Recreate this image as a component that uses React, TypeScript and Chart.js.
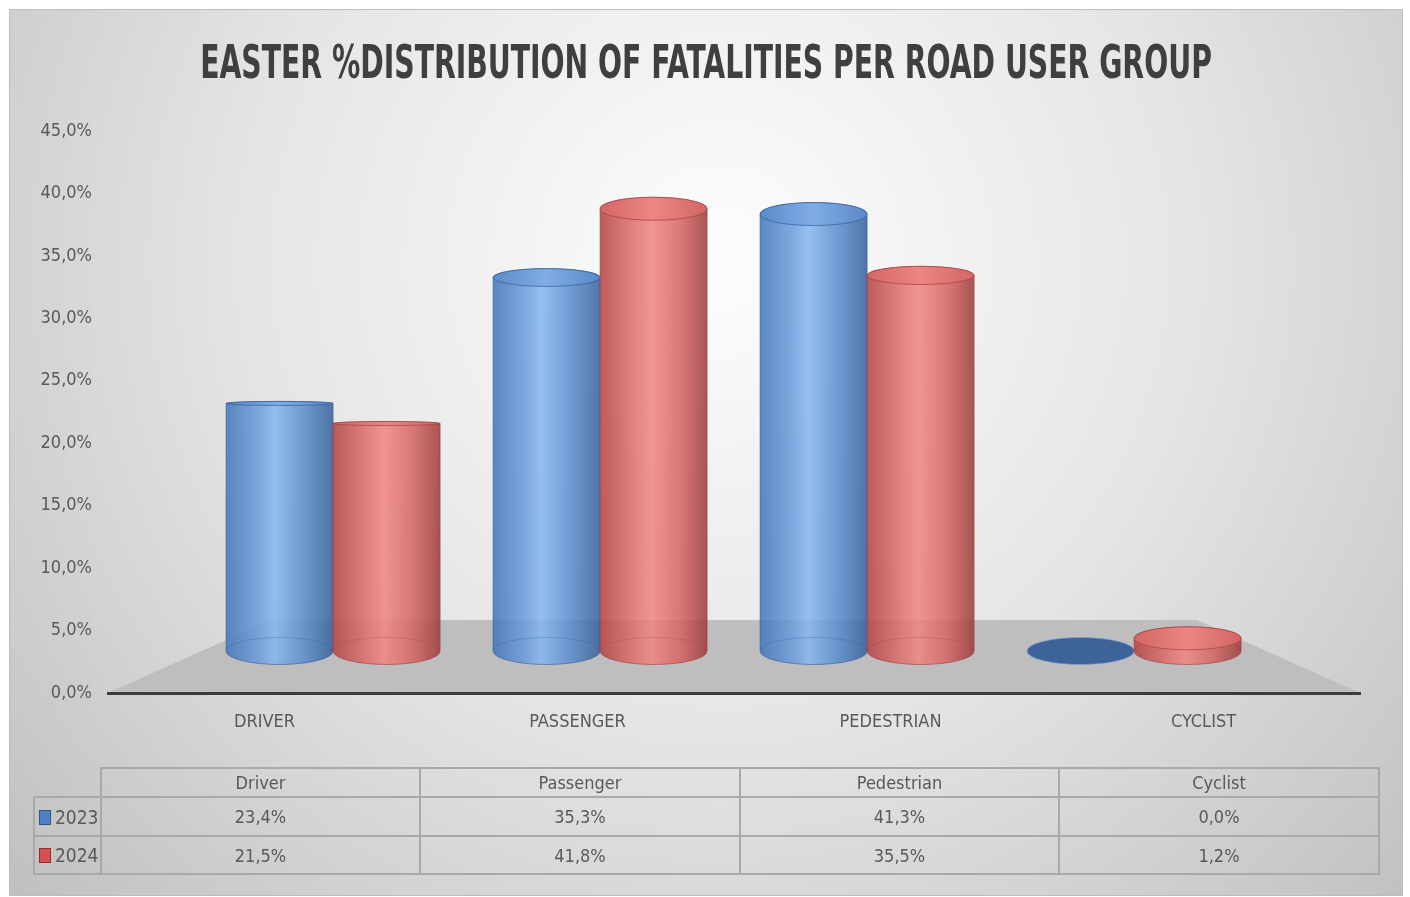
import React, { useEffect, useLayoutEffect, useRef } from 'react';
import { Chart, registerables } from 'chart.js';

Chart.register(...registerables);

// ---------- data ----------
const chartTitle = 'EASTER %DISTRIBUTION OF FATALITIES PER ROAD USER GROUP';
const axisCategories = ['DRIVER', 'PASSENGER', 'PEDESTRIAN', 'CYCLIST'];
const tableCategories = ['Driver', 'Passenger', 'Pedestrian', 'Cyclist'];
const seriesNames = ['2023', '2024'];
const values2023 = [23.4, 35.3, 41.3, 0.0];
const values2024 = [21.5, 41.8, 35.5, 1.2];
const yAxisMin = 0;
const yAxisMax = 45;
const yAxisStep = 5;

// ---------- styles ----------
const W = 1410;
const H = 897;
const FONT = "'DejaVu Sans Condensed', 'Liberation Sans Narrow', 'Lato', sans-serif";
const TEXT = '#595959';

const fmt = (v: number) => v.toFixed(1).replace('.', ',') + '%';

type Palette = { stops: [number, string][]; top: string; topHi: string; rim: string; flat: string; swatch: string; swatchBorder: string };
const palettes: Palette[] = [
  {
    stops: [[0, '#4475b8'], [0.28, '#6799da'], [0.45, '#87b7ee'], [0.72, '#5a8ecf'], [1, '#37609a']],
    top: '#5b8bca', topHi: '#7eabe4', rim: '#335d96', flat: '#3d6399',
    swatch: '#4f81c7', swatchBorder: '#2f5587',
  },
  {
    stops: [[0, '#b24242'], [0.3, '#dc6e6c'], [0.48, '#ef8684'], [0.75, '#d46462'], [1, '#9b3b3b']],
    top: '#d66866', topHi: '#ec8482', rim: '#a23e3e', flat: '#b84a4a',
    swatch: '#d65050', swatchBorder: '#8e2e2e',
  },
];

function drawCylinder(ctx: CanvasRenderingContext2D, x: number, top: number, base: number, w: number, p: Palette) {
  const rx = w / 2;
  const ryB = 13.5;
  const h = base - top;
  if (h < 0.5) {
    ctx.save();
    ctx.beginPath();
    ctx.ellipse(x, base, rx, ryB, 0, 0, Math.PI * 2);
    ctx.fillStyle = p.flat;
    ctx.fill();
    ctx.lineWidth = 1;
    ctx.strokeStyle = 'rgba(120,160,220,0.6)';
    ctx.stroke();
    ctx.restore();
    return;
  }
  const ryT = Math.max(2, Math.min(11.5, 0.07 * Math.abs(top - 405)));
  ctx.save();
  const g = ctx.createLinearGradient(x - rx, 0, x + rx, 0);
  p.stops.forEach(([o, c]) => g.addColorStop(o, c));
  ctx.globalAlpha = 0.86;
  ctx.beginPath();
  ctx.moveTo(x - rx, top);
  ctx.lineTo(x - rx, base);
  ctx.ellipse(x, base, rx, ryB, 0, Math.PI, 0, true);
  ctx.lineTo(x + rx, top);
  ctx.ellipse(x, top, rx, ryT, 0, 0, Math.PI, true);
  ctx.closePath();
  ctx.fillStyle = g;
  ctx.fill();
  ctx.globalAlpha = 0.6;
  ctx.lineWidth = 1;
  ctx.strokeStyle = p.rim;
  ctx.stroke();
  // hidden back edge of the base, seen through
  ctx.globalAlpha = 0.3;
  ctx.beginPath();
  ctx.ellipse(x, base, rx, ryB, 0, Math.PI, Math.PI * 2);
  ctx.stroke();
  // top face
  ctx.globalAlpha = 0.9;
  const tg = ctx.createLinearGradient(x - rx, 0, x + rx, 0);
  tg.addColorStop(0, p.top);
  tg.addColorStop(0.5, p.topHi);
  tg.addColorStop(1, p.top);
  ctx.beginPath();
  ctx.ellipse(x, top, rx, ryT, 0, 0, Math.PI * 2);
  ctx.fillStyle = tg;
  ctx.fill();
  ctx.globalAlpha = 0.7;
  ctx.strokeStyle = p.rim;
  ctx.stroke();
  ctx.restore();
}

const scenePlugin = {
  id: 'scene3d',
  beforeDraw(chart: any) {
    const { ctx, chartArea: a } = chart;
    ctx.save();
    ctx.fillStyle = '#ffffff';
    ctx.fillRect(0, 0, W, H);
    const g = ctx.createRadialGradient(720, 260, 40, 720, 260, 1000);
    g.addColorStop(0, '#fbfbfb');
    g.addColorStop(0.45, '#e5e5e5');
    g.addColorStop(1, '#bcbcbc');
    ctx.fillStyle = g;
    ctx.fillRect(10, 10, 1392, 885);
    ctx.strokeStyle = '#bcbcbc';
    ctx.lineWidth = 1;
    ctx.strokeRect(9.5, 9.5, 1393, 886);
    // floor
    const depth = 73;
    const inset = 163;
    ctx.beginPath();
    ctx.moveTo(a.left, a.bottom);
    ctx.lineTo(a.left + inset, a.bottom - depth);
    ctx.lineTo(a.right - inset, a.bottom - depth);
    ctx.lineTo(a.right, a.bottom);
    ctx.closePath();
    ctx.fillStyle = '#bebebe';
    ctx.fill();
    ctx.restore();
  },
  afterDatasetsDraw(chart: any) {
    const ctx = chart.ctx;
    const n = axisCategories.length;
    for (let i = 0; i < n; i++) {
      for (let d = 0; d < chart.data.datasets.length; d++) {
        const el = chart.getDatasetMeta(d).data[i];
        if (!el) continue;
        const { x, y, base, width } = el.getProps(['x', 'y', 'base', 'width'], true);
        drawCylinder(ctx, x, y, base, width, palettes[d]);
      }
    }
  },
};

function DataTable() {
  const colEdges = [33, 100, 419, 739, 1058, 1378];
  const rowEdges = [767, 796, 835, 873];
  const rows = [values2023, values2024];
  const cellStyle: React.CSSProperties = {
    border: '2px solid #a9a9a9',
    textAlign: 'center',
    padding: 0,
    color: TEXT,
    fontFamily: FONT,
    fontSize: 18,
  };
  return (
    <table
      style={{
        position: 'absolute',
        left: colEdges[0],
        top: rowEdges[0],
        borderCollapse: 'collapse',
        tableLayout: 'fixed',
        width: colEdges[5] - colEdges[0],
      }}
    >
      <colgroup>
        {colEdges.slice(0, -1).map((c, i) => (
          <col key={i} style={{ width: colEdges[i + 1] - c }} />
        ))}
      </colgroup>
      <tbody>
        <tr style={{ height: rowEdges[1] - rowEdges[0] }}>
          <td style={{ ...cellStyle, border: 'none' }} />
          {tableCategories.map((c) => (
            <td key={c} style={cellStyle}>{c}</td>
          ))}
        </tr>
        {rows.map((vals, r) => (
          <tr key={r} style={{ height: rowEdges[r + 2] - rowEdges[r + 1] }}>
            <td style={{ ...cellStyle, textAlign: 'left', paddingLeft: 4, whiteSpace: 'nowrap', fontSize: 19 }}>
              <span
                style={{
                  display: 'inline-block',
                  width: 10,
                  height: 13,
                  background: palettes[r].swatch,
                  border: '1px solid ' + palettes[r].swatchBorder,
                  marginRight: 4,
                  verticalAlign: '-1px',
                }}
              />
              {seriesNames[r]}
            </td>
            {vals.map((v, i) => (
              <td key={i} style={cellStyle}>{fmt(v)}</td>
            ))}
          </tr>
        ))}
      </tbody>
    </table>
  );
}

export default function App() {
  const canvasRef = useRef<HTMLCanvasElement | null>(null);
  const titleRef = useRef<HTMLDivElement | null>(null);

  useLayoutEffect(() => {
    const t = titleRef.current;
    if (t) {
      const w = t.scrollWidth;
      const k = 1012 / w;
      t.style.transform = `translateX(-50%) scaleX(${k})`;
    }
  }, []);

  useEffect(() => {
    if (!canvasRef.current) return;
    const chart = new Chart(canvasRef.current, {
      type: 'bar',
      data: {
        datasets: [values2023, values2024].map((vals, d) => ({
          label: seriesNames[d],
          data: vals.map((v, i) => ({ x: i, y: v })),
          xAxisID: 'xb',
          yAxisID: 'yb',
          backgroundColor: 'rgba(0,0,0,0)',
          borderWidth: 0,
          barThickness: 107,
        })),
      },
      options: {
        animation: false,
        responsive: false,
        maintainAspectRatio: false,
        layout: { padding: { top: 131, right: 50, bottom: 0, left: 0 } },
        plugins: {
          legend: { display: false },
          tooltip: { enabled: false },
          title: { display: false },
        },
        scales: {
          y: {
            position: 'left',
            min: yAxisMin,
            max: yAxisMax,
            ticks: {
              stepSize: yAxisStep,
              callback: (v: any) => fmt(Number(v)),
              color: TEXT,
              font: { family: FONT, size: 18 },
              padding: 16,
            },
            grid: { display: false, drawTicks: false },
            border: { display: false },
            afterFit: (s: any) => { s.width = 108; },
          },
          x: {
            type: 'category',
            labels: axisCategories,
            position: 'bottom',
            offset: true,
            grid: { display: false, drawTicks: false },
            border: { display: true, color: '#3c3c3c', width: 3 },
            ticks: { color: TEXT, font: { family: FONT, size: 18 }, padding: 19 },
            afterFit: (s: any) => { s.height = 204; },
          },
          xb: { type: 'linear', display: false, offset: false, min: -0.843, max: 3.846 },
          yb: { type: 'linear', display: false, min: -3.97, max: 49.15 },
        },
      } as any,
      plugins: [scenePlugin],
    });
    return () => chart.destroy();
  }, []);

  return (
    <div style={{ position: 'absolute', left: 0, top: 0, width: W, height: H, overflow: 'hidden' }}>
      <canvas ref={canvasRef} width={W} height={H} style={{ display: 'block', width: W, height: H }} />
      <div
        ref={titleRef}
        style={{
          position: 'absolute',
          left: 706,
          top: 39,
          whiteSpace: 'nowrap',
          fontFamily: FONT,
          fontWeight: 'bold',
          fontSize: 46,
          lineHeight: '46px',
          color: '#3f3f3f',
          transformOrigin: '50% 50%',
          letterSpacing: 0,
        }}
      >
        {chartTitle}
      </div>
      <DataTable />
    </div>
  );
}
